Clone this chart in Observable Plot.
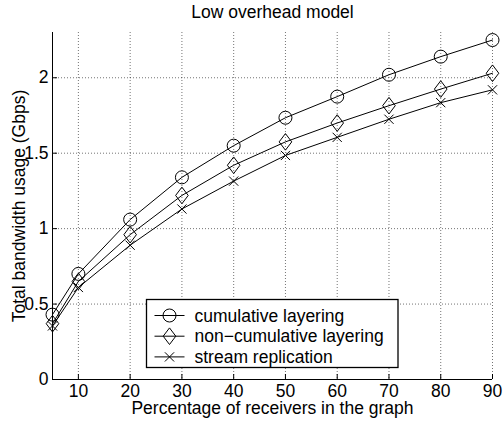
<!DOCTYPE html>
<html>
<head>
<meta charset="utf-8">
<script src="https://cdn.jsdelivr.net/npm/d3@7"></script>
<script src="https://cdn.jsdelivr.net/npm/@observablehq/plot@0.6"></script>
<style>
  html, body { margin: 0; padding: 0; background: #fff; }
  #chart svg { display: block; }
</style>
</head>
<body>
<div id="chart"></div>
<script>
// ---- data ----
const titleText = "Low overhead model";
const xLabel = "Percentage of receivers in the graph";
const yLabel = "Total bandwidth usage (Gbps)";
const pct = [5, 10, 20, 30, 40, 50, 60, 70, 80, 90];
const cumulative    = [0.43, 0.70, 1.06, 1.34, 1.55, 1.735, 1.875, 2.02, 2.14, 2.25];
const nonCumulative = [0.37, 0.65, 0.96, 1.22, 1.42, 1.575, 1.70, 1.815, 1.925, 2.03];
const stream        = [0.355, 0.61, 0.89, 1.13, 1.315, 1.485, 1.605, 1.725, 1.835, 1.92];
const seriesNames = ["cumulative layering", "non\u2212cumulative layering", "stream replication"];
const xTicks = [10, 20, 30, 40, 50, 60, 70, 80, 90];
const yTicks = [0, 0.5, 1, 1.5, 2];

// ---- custom marker shapes ----
const circleSym = {draw(ctx) { const r = 6.5; ctx.moveTo(r, 0); ctx.arc(0, 0, r, 0, 2 * Math.PI); }};
const diamondSym = {draw(ctx) { const w = 6.3, h = 8.3; ctx.moveTo(0, -h); ctx.lineTo(w, 0); ctx.lineTo(0, h); ctx.lineTo(-w, 0); ctx.closePath(); }};
const timesSym = {draw(ctx) { const s = 4.6; ctx.moveTo(-s, -s); ctx.lineTo(s, s); ctx.moveTo(-s, s); ctx.lineTo(s, -s); }};
const symbols = [circleSym, diamondSym, timesSym];

const seriesValues = [cumulative, nonCumulative, stream];
const rows = [];
seriesValues.forEach((vals, i) => vals.forEach((v, j) => rows.push({series: seriesNames[i], x: pct[j], y: v})));

const font = "'Liberation Sans', Arial, Helvetica, sans-serif";
const fs = 17.5;

const marks = [
  Plot.gridX(xTicks, {stroke: "#000", strokeOpacity: 0.55, strokeDasharray: "1,2"}),
  Plot.gridY(yTicks.filter(d => d > 0), {stroke: "#000", strokeOpacity: 0.55, strokeDasharray: "1,2"}),
  Plot.axisX(xTicks, {tickSize: 5, insetBottom: 5, tickPadding: 5, tickFormat: d => String(d), label: null, fontSize: fs}),
  Plot.axisY(yTicks, {tickSize: 5, insetLeft: 5, tickPadding: 4, tickFormat: d => String(d), label: null, fontSize: fs}),
  Plot.ruleX([5], {stroke: "#000"}),
  Plot.ruleY([0], {stroke: "#000"}),
];
seriesNames.forEach((name, i) => {
  const data = rows.filter(r => r.series === name);
  marks.push(Plot.line(data, {x: "x", y: "y", stroke: "#000", strokeWidth: 1}));
  marks.push(Plot.dot(data, {x: "x", y: "y", symbol: () => symbols[i], stroke: "#000", fill: "none", strokeWidth: 1}));
});
marks.push(Plot.text([titleText], {frameAnchor: "top", textAnchor: "middle", lineAnchor: "middle", dy: -20.3, fontSize: fs, fill: "#000"}));
marks.push(Plot.text([xLabel], {frameAnchor: "bottom", textAnchor: "middle", lineAnchor: "middle", dy: 28.7, fontSize: fs, fill: "#000"}));
marks.push(Plot.text([yLabel], {frameAnchor: "left", textAnchor: "middle", lineAnchor: "middle", dx: -33, rotate: -90, fontSize: fs, fill: "#000"}));

const chart = Plot.plot({
  width: 503,
  height: 424,
  marginLeft: 52,
  marginRight: 11,
  marginTop: 32,
  marginBottom: 45,
  style: {fontFamily: font, fontSize: fs + "px", color: "#000", background: "#fff"},
  x: {domain: [5, 90]},
  y: {domain: [0, 2.3]},
  symbol: {type: "identity"},
  marks
});

// ---- legend box inside the plot (drawn with d3 in pixel space) ----
const svg = d3.select(chart);
const lg = svg.append("g").attr("font-family", font).attr("font-size", fs).attr("text-anchor", "start");
const bx = 146.5, by = 299.5, bw = 251.5, bh = 68;
lg.append("rect").attr("x", bx).attr("y", by).attr("width", bw).attr("height", bh)
  .attr("fill", "#fff").attr("stroke", "#000").attr("stroke-width", 1.3);
seriesNames.forEach((name, i) => {
  const cy = by + 16 + i * 20.7;
  lg.append("line").attr("x1", bx + 8).attr("x2", bx + 38).attr("y1", cy).attr("y2", cy).attr("stroke", "#000");
  const p = d3.path(); symbols[i].draw(p);
  lg.append("path").attr("d", p.toString()).attr("transform", `translate(${bx + 23},${cy})`)
    .attr("fill", "none").attr("stroke", "#000");
  lg.append("text").attr("x", bx + 48).attr("y", cy).attr("dy", "0.35em").attr("fill", "#000").text(name);
});

document.getElementById("chart").appendChild(chart);
</script>
</body>
</html>
